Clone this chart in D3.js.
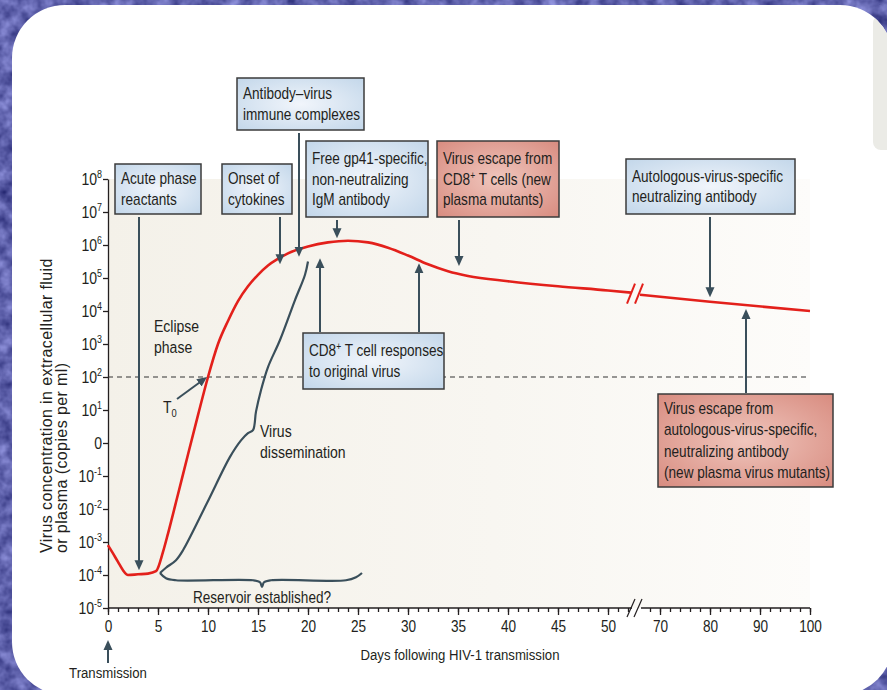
<!DOCTYPE html>
<html>
<head>
<meta charset="utf-8">
<script src="https://cdn.jsdelivr.net/npm/d3@7"></script>
<style>
  body { margin: 0; background: #5a5ca4; }
  svg { display: block; }
  text { font-family: "Liberation Sans", Arial, sans-serif; fill: #231f20; }
</style>
</head>
<body>
<svg width="887" height="690"></svg>
<script>
const svg = d3.select('svg'),
  width = +svg.attr('width'),
  height = +svg.attr('height');

// plasma virus (copies per ml) before the axis break
const earlyDays = [0, 0.5, 1, 1.5, 2, 3, 4, 4.8, 5.5, 6, 7, 8, 9, 10, 11, 12, 13, 14, 15, 16, 17, 18, 20, 22, 24, 26, 28, 30, 32, 34, 36, 40, 45, 50, 52.3];
const earlyCopies = [8e-4, 4.5e-4, 2.5e-4, 1.4e-4, 1e-4, 1.05e-4, 1.1e-4, 1.3e-4, 5e-4, 1.8e-3, 2.8e-2, 0.45, 7, 100, 1000, 5000, 2e4, 5.6e4, 1.25e5, 2.4e5, 3.8e5, 5.6e5, 9e5, 1.2e6, 1.35e6, 1.2e6, 8.3e5, 4.8e5, 2.6e5, 1.6e5, 1.15e5, 8e4, 5.6e4, 4.2e4, 3.6e4];
// ... and after it
const lateDays = [66, 80, 100];
const lateCopies = [3.1e4, 1.9e4, 1e4];

// "virus dissemination" brace (log10 copies)
const dissemDays = [5.2, 5.8, 6.8, 7.5, 9.9, 12.2, 13.3, 14.0, 14.5, 14.8, 15.3, 16.0, 17.2, 18.7, 19.7, 20.0];
const dissemLog = [-3.94, -3.78, -3.55, -3.25, -1.82, -0.42, 0.08, 0.3, 0.39, 0.95, 1.6, 2.3, 3.12, 4.33, 5.1, 5.5];
// "reservoir established?" brace (log10 copies)
const reservoirDays = [5.2, 5.8, 6.8, 14.5, 15.2, 15.4, 15.6, 16.3, 23.8, 24.8, 25.4];
const reservoirLog = [-3.94, -4.1, -4.16, -4.16, -4.22, -4.36, -4.22, -4.16, -4.16, -4.07, -3.94];

// axis ticks
const yExponents = d3.range(-5, 9);
const majorDays = [0, 5, 10, 15, 20, 25, 30, 35, 40, 45, 50, 70, 80, 90, 100];
const minorDays = d3.range(0, 53).concat(d3.range(68, 101, 2));

// boxes: text lines, arrow day and the copies value its head points at
const boxes = [
  {lines: ['Acute phase', 'reactants'], pos: [115, 164, 86, 50], kind: 'blue', arrows: [[3.1, 1.4e-4]]},
  {lines: ['Onset of', 'cytokines'], pos: [222, 164, 70, 50], kind: 'blue', arrows: [[17.2, 2.6e5]]},
  {lines: ['Antibody–virus', 'immune complexes'], pos: [237, 78, 127, 52], kind: 'blue', arrows: [[19.1, 4.4e5]]},
  {lines: ['Free gp41-specific,', 'non-neutralizing', 'IgM antibody'], pos: [306, 141, 122, 76], kind: 'blue', arrows: [[22.9, 1.6e6]]},
  {lines: ['Virus escape from', 'CD8^+ T cells (new', 'plasma mutants)'], pos: [437, 141, 122, 76], kind: 'red', arrows: [[35.1, 2.3e5]]},
  {lines: ['Autologous-virus-specific', 'neutralizing antibody'], pos: [626, 159, 169, 55], kind: 'blue', arrows: [[80, 2.6e4]]},
  {lines: ['CD8^+ T cell responses', 'to original virus'], pos: [303, 333, 141, 56], kind: 'blue', arrows: [[21.2, 4e5], [31.1, 2.8e5]]},
  {lines: ['Virus escape from', 'autologous-virus-specific,', 'neutralizing antibody', '(new plasma virus mutants)'], pos: [658, 394, 175, 93], kind: 'red', arrows: [[87.2, 1.15e4]]}
];

const x = d3.scaleLinear().domain([0, 52.5, 65, 100]).range([108, 633, 635, 810]);
const y = d3.scaleLog().domain([1e-5, 1e8]).range([608, 179]);

const ink = '#3a4f5b', red = '#e3201b', sx = 0.85;

const defs = svg.append('defs');
const tex = defs.append('filter').attr('id', 'tex').attr('x', 0).attr('y', 0).attr('width', 1).attr('height', 1)
  .attr('color-interpolation-filters', 'sRGB');
tex.append('feTurbulence').attr('type', 'fractalNoise').attr('baseFrequency', 0.07).attr('numOctaves', 3).attr('seed', 7);
tex.append('feColorMatrix').attr('type', 'matrix')
  .attr('values', '0.55 0 0 0 0.1  0.55 0 0 0 0.11  0.55 0 0 0 0.4  0 0 0 0 1');

const grad = (id, c0, c1) => {
  const g = defs.append('radialGradient').attr('id', id).attr('cx', '50%').attr('cy', '50%').attr('r', '70%');
  g.append('stop').attr('offset', '0%').attr('stop-color', c0);
  g.append('stop').attr('offset', '100%').attr('stop-color', c1);
};
grad('blue', '#f1f5fb', '#c3d7ea');
grad('red', '#f0c6bd', '#d88c80');

const plotGrad = defs.append('linearGradient').attr('id', 'plotbg');
plotGrad.append('stop').attr('offset', '0%').attr('stop-color', '#f4f1e9');
plotGrad.append('stop').attr('offset', '55%').attr('stop-color', '#f8f6f1');
plotGrad.append('stop').attr('offset', '100%').attr('stop-color', '#fdfcfa');

defs.append('clipPath').attr('id', 'card')
  .append('rect').attr('x', 12).attr('y', 5).attr('width', 881).attr('height', 690).attr('rx', 53);

defs.append('marker').attr('id', 'head')
  .attr('viewBox', '0 -5 10 10').attr('refX', 2).attr('refY', 0)
  .attr('markerUnits', 'userSpaceOnUse').attr('markerWidth', 10).attr('markerHeight', 10)
  .attr('orient', 'auto')
  .append('path').attr('d', 'M0,-4.5L10,0L0,4.5Z').attr('fill', ink);

// narrow text: a regular sans squeezed sideways
const ntext = (parent, tx, ty, size, anchor) => parent.append('text')
  .attr('transform', `translate(${tx},${ty}) scale(${sx},1)`)
  .attr('font-size', size)
  .attr('text-anchor', anchor || 'start');

// backdrop and card
svg.append('rect').attr('width', width).attr('height', height).attr('filter', 'url(#tex)');
svg.append('rect').attr('x', 12).attr('y', 5).attr('width', 881).attr('height', 690).attr('rx', 53).attr('fill', '#fff');
svg.append('rect').attr('clip-path', 'url(#card)')
  .attr('x', 873).attr('y', 15).attr('width', 40).attr('height', 135).attr('rx', 8).attr('fill', '#ebebe6');

// plot background
svg.append('rect')
  .attr('x', x(0)).attr('y', y(1e8))
  .attr('width', x(100) - x(0)).attr('height', y(1e-5) - y(1e8))
  .attr('fill', 'url(#plotbg)');

// y axis
const yAxis = svg.append('g').attr('transform', `translate(${x(0)},0)`)
  .call(d3.axisLeft(y).tickValues(yExponents.map(e => Math.pow(10, e))).tickSize(5).tickSizeOuter(0).tickFormat(''));
yAxis.select('.domain').attr('stroke', '#231f20').attr('stroke-width', 1.3);
yAxis.selectAll('.tick line').attr('stroke', '#231f20').attr('stroke-width', 1.3);

const yLab = svg.append('g');
yExponents.forEach(e => {
  const t = ntext(yLab, x(0) - 6, y(Math.pow(10, e)) + 6, 16.5, 'end');
  if (e === 0) t.text('0');
  else {
    t.append('tspan').text('10');
    t.append('tspan').attr('dy', -7).attr('font-size', 10.5).text(e < 0 ? '-' + (-e) : e);
  }
});

// x axis, with a break
const xAxis = svg.append('g').attr('transform', `translate(0,${y(1e-5)})`);
xAxis.append('g').call(d3.axisBottom(x).tickValues(minorDays).tickSize(4).tickFormat(''));
xAxis.append('g').call(d3.axisBottom(x).tickValues(majorDays).tickSize(7).tickPadding(6).tickFormat(d3.format('d')));
xAxis.selectAll('.domain').remove();
xAxis.selectAll('.tick line').attr('stroke', '#231f20').attr('stroke-width', 1.3);
xAxis.selectAll('.tick text').attr('font-size', 16).attr('fill', '#231f20')
  .attr('transform', `scale(${sx},1)`)
  .style('font-family', '"Liberation Sans", Arial, sans-serif');
const brk = (x(52.5) + x(65)) / 2;
xAxis.append('path')
  .attr('d', `M${x(0)},0H${brk - 2}M${brk + 7},0H${x(100)}`)
  .attr('stroke', '#231f20').attr('stroke-width', 1.3);
[-3, 4].forEach(o => xAxis.append('line')
  .attr('x1', brk + o - 4).attr('y1', 9).attr('x2', brk + o + 4).attr('y2', -9)
  .attr('stroke', '#231f20').attr('stroke-width', 1.2));

// 10^2 threshold
svg.append('line')
  .attr('x1', x(0)).attr('x2', x(100)).attr('y1', y(100)).attr('y2', y(100))
  .attr('stroke', '#333').attr('stroke-width', 1.2).attr('stroke-dasharray', '5,4');

// braces
const braceLine = d3.line().x(d => x(d[0])).y(d => y(Math.pow(10, d[1]))).curve(d3.curveCatmullRom.alpha(0.5));
svg.append('path').datum(d3.zip(dissemDays, dissemLog)).attr('d', braceLine)
  .attr('fill', 'none').attr('stroke', ink).attr('stroke-width', 2.2);
svg.append('path').datum(d3.zip(reservoirDays, reservoirLog)).attr('d', braceLine)
  .attr('fill', 'none').attr('stroke', ink).attr('stroke-width', 2.2);

// viral load curve
const load = d3.line().x(d => x(d[0])).y(d => y(d[1])).curve(d3.curveMonotoneX);
[d3.zip(earlyDays, earlyCopies), d3.zip(lateDays, lateCopies)].forEach(seg =>
  svg.append('path').datum(seg).attr('d', load)
    .attr('fill', 'none').attr('stroke', red).attr('stroke-width', 2.6));
const by = (y(earlyCopies[earlyCopies.length - 1]) + y(lateCopies[0])) / 2;
[-3, 5].forEach(o => svg.append('line')
  .attr('x1', brk + o - 4).attr('y1', by + 10).attr('x2', brk + o + 4).attr('y2', by - 10)
  .attr('stroke', red).attr('stroke-width', 2));

// arrows
const arrow = (x1, y1, x2, y2) => {
  const len = Math.hypot(x2 - x1, y2 - y1), ux = (x2 - x1) / len, uy = (y2 - y1) / len;
  svg.append('line')
    .attr('x1', x1).attr('y1', y1).attr('x2', x2 - ux * 8).attr('y2', y2 - uy * 8)
    .attr('stroke', ink).attr('stroke-width', 2).attr('marker-end', 'url(#head)');
};

// text with "^+" superscripts
const rich = (sel, s) => {
  let shift = 0;
  s.split(/(\^\+)/).forEach(part => {
    if (part === '^+') {
      sel.append('tspan').attr('dy', -6).attr('font-size', 10).text('+');
      shift = 6;
    } else if (part) {
      sel.append('tspan').attr('dy', shift).text(part);
      shift = 0;
    }
  });
};

boxes.forEach(b => {
  const [bx, by0, bw, bh] = b.pos;
  b.arrows.forEach(([day, tip]) => {
    const ty = y(tip);
    const sy = ty > by0 + bh ? by0 + bh + 3 : by0 - 1;
    arrow(x(day), sy, x(day), ty);
  });
  svg.append('rect').attr('x', bx).attr('y', by0).attr('width', bw).attr('height', bh)
    .attr('fill', `url(#${b.kind})`).attr('stroke', '#3b3b3b').attr('stroke-width', 1.5);
  const lh = b.lines.length > 3 ? 21.3 : 20.5;
  const first = by0 + bh / 2 - (b.lines.length - 1) * lh / 2 + 5.5;
  b.lines.forEach((l, i) => rich(ntext(svg, bx + 6, first + i * lh, 16), l));
});

// transmission and T0 arrows
arrow(x(0), 663, x(0), 640);
arrow(x(9.9) - 30, y(100) + 22, x(9.9), y(100));

// free labels
const label = (tx, ty, lines, size, anchor) => {
  lines.forEach((l, i) => ntext(svg, tx, ty + i * 20.5, size, anchor).text(l));
};
label(154, 332, ['Eclipse', 'phase'], 16.5);
label(260, 437, ['Virus', 'dissemination'], 16.5);
label(x(15.4), 603, ['Reservoir established?'], 16, 'middle');
label(x(0), 678, ['Transmission'], 15.5, 'middle');
label(460, 660, ['Days following HIV-1 transmission'], 15.5, 'middle');

const t0 = ntext(svg, 163, 413, 16.5);
t0.append('tspan').text('T');
t0.append('tspan').attr('dy', 4).attr('font-size', 11).text('0');

// y title
const yt = svg.append('g').attr('transform', 'translate(52,553) rotate(-90)');
yt.append('text').attr('font-size', 16).attr('letter-spacing', 0.4).text('Virus concentration in extracellular fluid');
yt.append('text').attr('font-size', 16).attr('letter-spacing', 0.4).attr('y', 15).text('or plasma (copies per ml)');
</script>
</body>
</html>
